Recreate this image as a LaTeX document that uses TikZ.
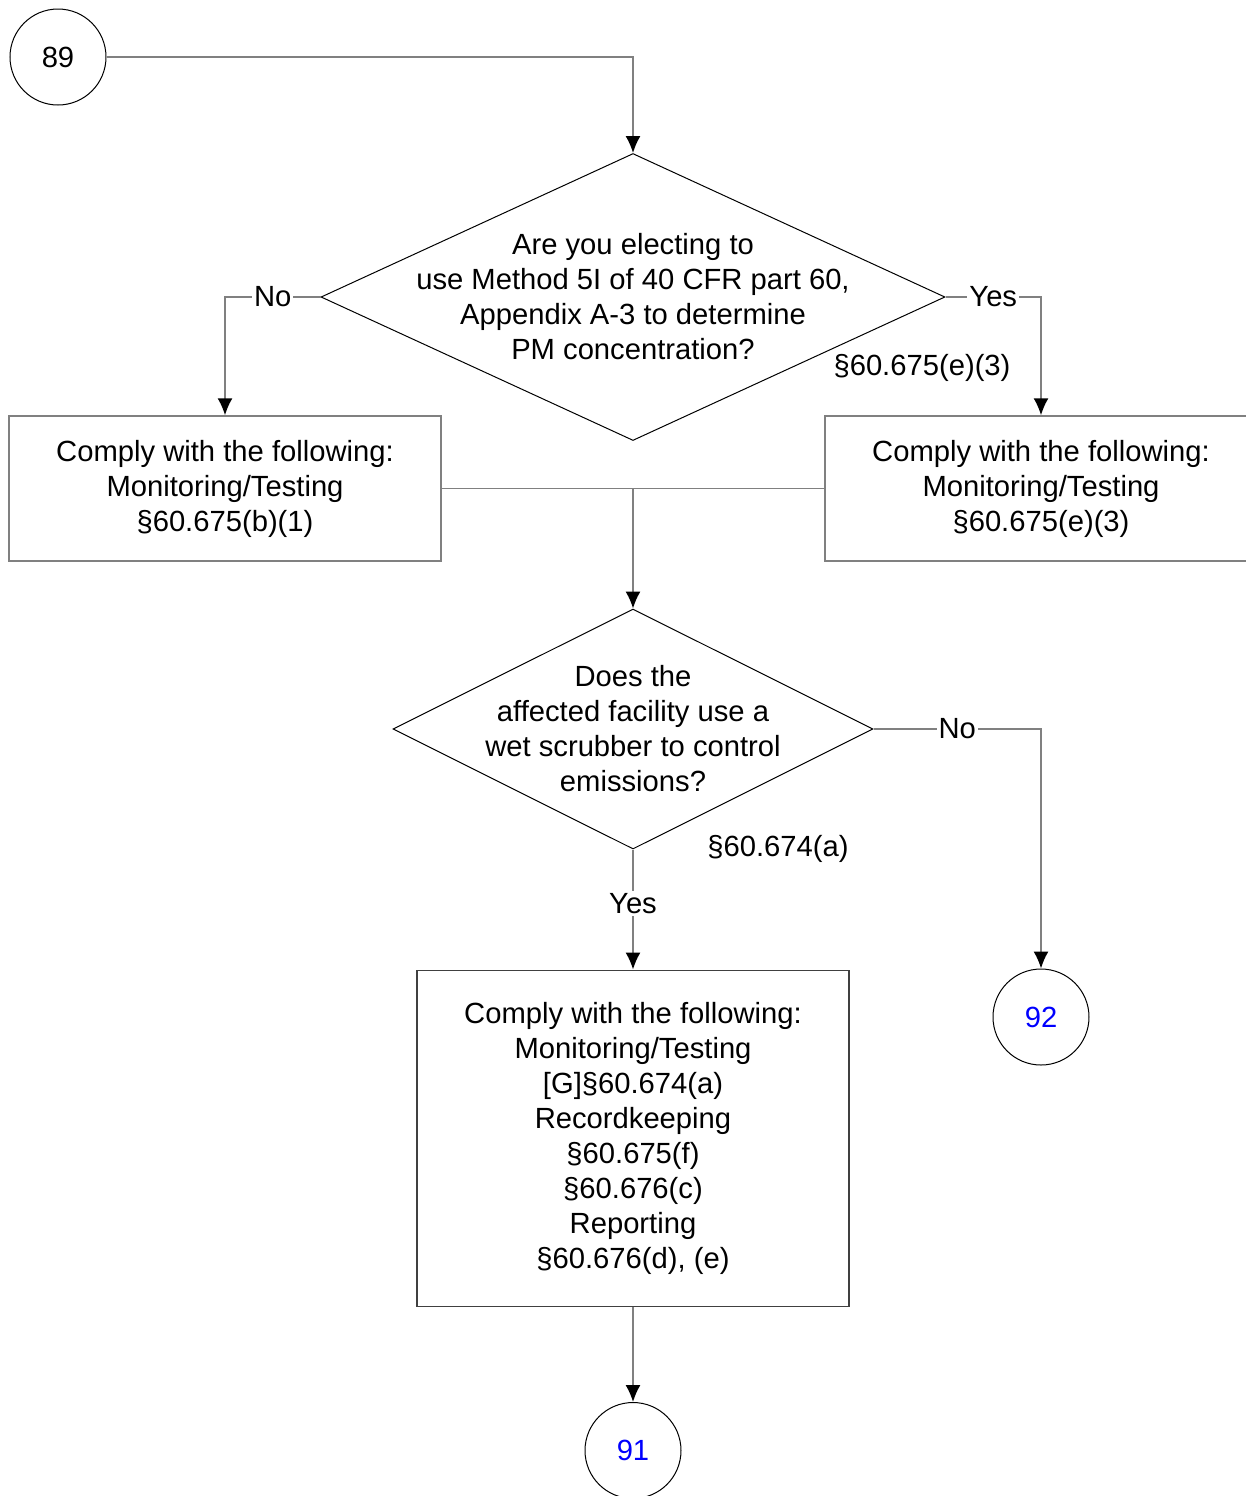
\documentclass[tikz,border=0pt]{standalone}
\usepackage{fontspec}
\setmainfont{Liberation Sans}
\usepackage{tikz}
\usetikzlibrary{shapes,arrows.meta,positioning}
\definecolor{linegray}{RGB}{128, 128, 128}
\definecolor{refblue}{RGB}{0, 0, 255}
\tikzstyle{connector} = [circle, draw=black, line width=0.5pt, fill=white, text=black, text centered, font=\fontsize{14.6}{17.5}\selectfont, minimum size = 48pt, inner sep=0pt]
\tikzstyle{decision} = [diamond, draw=black, line width=0.5pt, fill=white, inner sep=0pt]
\tikzstyle{action} = [rectangle, draw=linegray, line width=0.75pt, fill=white, text=black, align=center, font=\fontsize{14.6}{17.5}\selectfont, minimum width = 216pt, minimum height = 72.5pt]
\tikzstyle{txt} = [align=center, font=\fontsize{14.6}{17.5}\selectfont, inner sep=0pt]
\tikzstyle{lbl} = [fill=white, text=black, anchor=center, font=\fontsize{14.6}{17.5}\selectfont, inner sep=1pt]
\tikzstyle{flow} = [draw, line width=0.75pt, linegray, >={Latex[length=8.5pt,width=7.5pt,color=black]}, ->]
\tikzstyle{plain} = [draw, line width=0.75pt, linegray]

\begin{document}
\begin{tikzpicture}
\useasboundingbox (0pt,0pt) rectangle (623pt,-748pt);

% start =============================
\node[connector] (c89) at (29pt,-28.5pt) {89};

% first question
\node[decision, minimum width=312pt, minimum height=143.5pt] (dec1) at (316.5pt,-148.5pt) {};
\node[txt] (dec1txt) at (dec1.center) {Are you electing to\\use Method 5I of 40 CFR part 60,\\Appendix A-3 to determine\\PM concentration?};
\node[txt] (ref1) at (461pt,-184pt) {§60.675(e)(3)};

% monitoring boxes
\node[action] (box1) at (112.5pt,-244.25pt) {Comply with the following:\\Monitoring/Testing\\§60.675(b)(1)};
\node[action] (box2) at (520.5pt,-244.25pt) {Comply with the following:\\Monitoring/Testing\\§60.675(e)(3)};
\coordinate (merge) at (316.5pt,-244.25pt);

% second question
\node[decision, minimum width=240pt, minimum height=120pt] (dec2) at (316.5pt,-364.5pt) {};
\node[txt] (dec2txt) at (dec2.center) {Does the\\affected facility use a\\wet scrubber to control\\emissions?};
\node[txt] (ref2) at (389pt,-424.5pt) {§60.674(a)};

% wet scrubber box
\node[action, minimum height=168pt, draw=black!75] (box3) [below=60pt of dec2] {Comply with the following:\\Monitoring/Testing\\{[G]}§60.674(a)\\Recordkeeping\\§60.675(f)\\§60.676(c)\\Reporting\\§60.676(d), (e)};

% off-page connectors
\node[connector, text=refblue, below=47.5pt of box3] (c91) {91};
\node[connector, text=refblue] (c92) at (520.5pt,-508.5pt) {92};

%edges
\path[flow] (c89.east) -| (dec1.north);
\path[flow] (dec1.west) -| node[lbl, pos=0.25] (no1) {No} (box1.north);
\path[flow] (dec1.east) -| node[lbl, pos=0.25] (yes1) {Yes} (box2.north);

\path[plain] (box1.east) -- (merge) -- (box2.west);
\path[flow] (merge) -- (dec2.north);

\path[flow] (dec2.east) -| node[lbl, pos=0.25] (no2) {No} (c92.north);
\path[flow] (dec2.south) -- node[lbl, pos=0.45] (yes2) {Yes} (box3.north);
\path[flow] (box3.south) -- (c91.north);

\end{tikzpicture}
\end{document}
